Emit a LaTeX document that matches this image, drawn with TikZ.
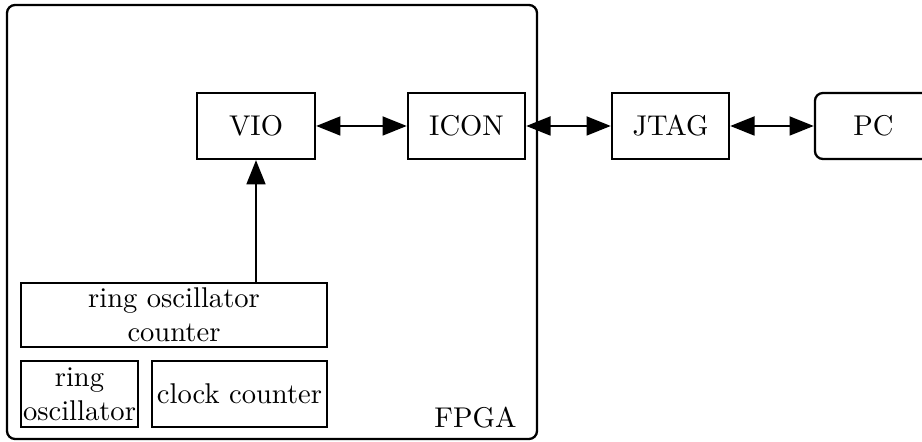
\documentclass[tikz,border=0pt]{standalone}
\usetikzlibrary{arrows.meta}
\begin{document}
\begin{tikzpicture}[x=0.35pt,y=-0.35pt,
  blk/.style={draw, line width=0.8pt, inner sep=0pt, align=center,
    minimum height=23.1pt},
  dbl/.style={line width=0.8pt, {Triangle[length=8.5pt,width=6.6pt]}-{Triangle[length=8.5pt,width=6.6pt]}},
  uni/.style={line width=0.8pt, -{Triangle[length=8.5pt,width=6.6pt]}}
]
\useasboundingbox (0,0) rectangle (922,442);

% FPGA enclosure
\node (fpga) [draw, line width=0.8pt, rounded corners=2.8pt,
  minimum width=185.5pt, minimum height=151.9pt] at (272,222) {};
\node (fpgalabel) [anchor=base east, inner sep=0pt] at (517,428) {FPGA};

% top row
\node (vio)  [blk, minimum width=41.3pt] at (256,126) {VIO};
\node (icon) [blk, minimum width=41pt]   at (466.5,126) {ICON};
\node (jtag) [blk, minimum width=41pt]   at (670.5,126) {JTAG};
\node (pc)   [blk, minimum width=41pt, rounded corners=2.8pt] at (873.5,126) {PC};

% logic inside the FPGA
\node (roc)  [blk, minimum width=107.1pt, minimum height=22.4pt] at (174,315) {ring oscillator\\counter};
\node (ro)   [blk, minimum width=41pt]    at (79.5,394) {ring\\oscillator};
\node (cc)   [blk, minimum width=61.25pt] at (239.5,394) {clock counter};

% connections
\draw[dbl] (vio) -- (icon);
\draw[dbl] (icon) -- (jtag);
\draw[dbl] (jtag) -- (pc);
\draw[uni] (vio.south |- roc.north) -- (vio.south);
\end{tikzpicture}
\end{document}
